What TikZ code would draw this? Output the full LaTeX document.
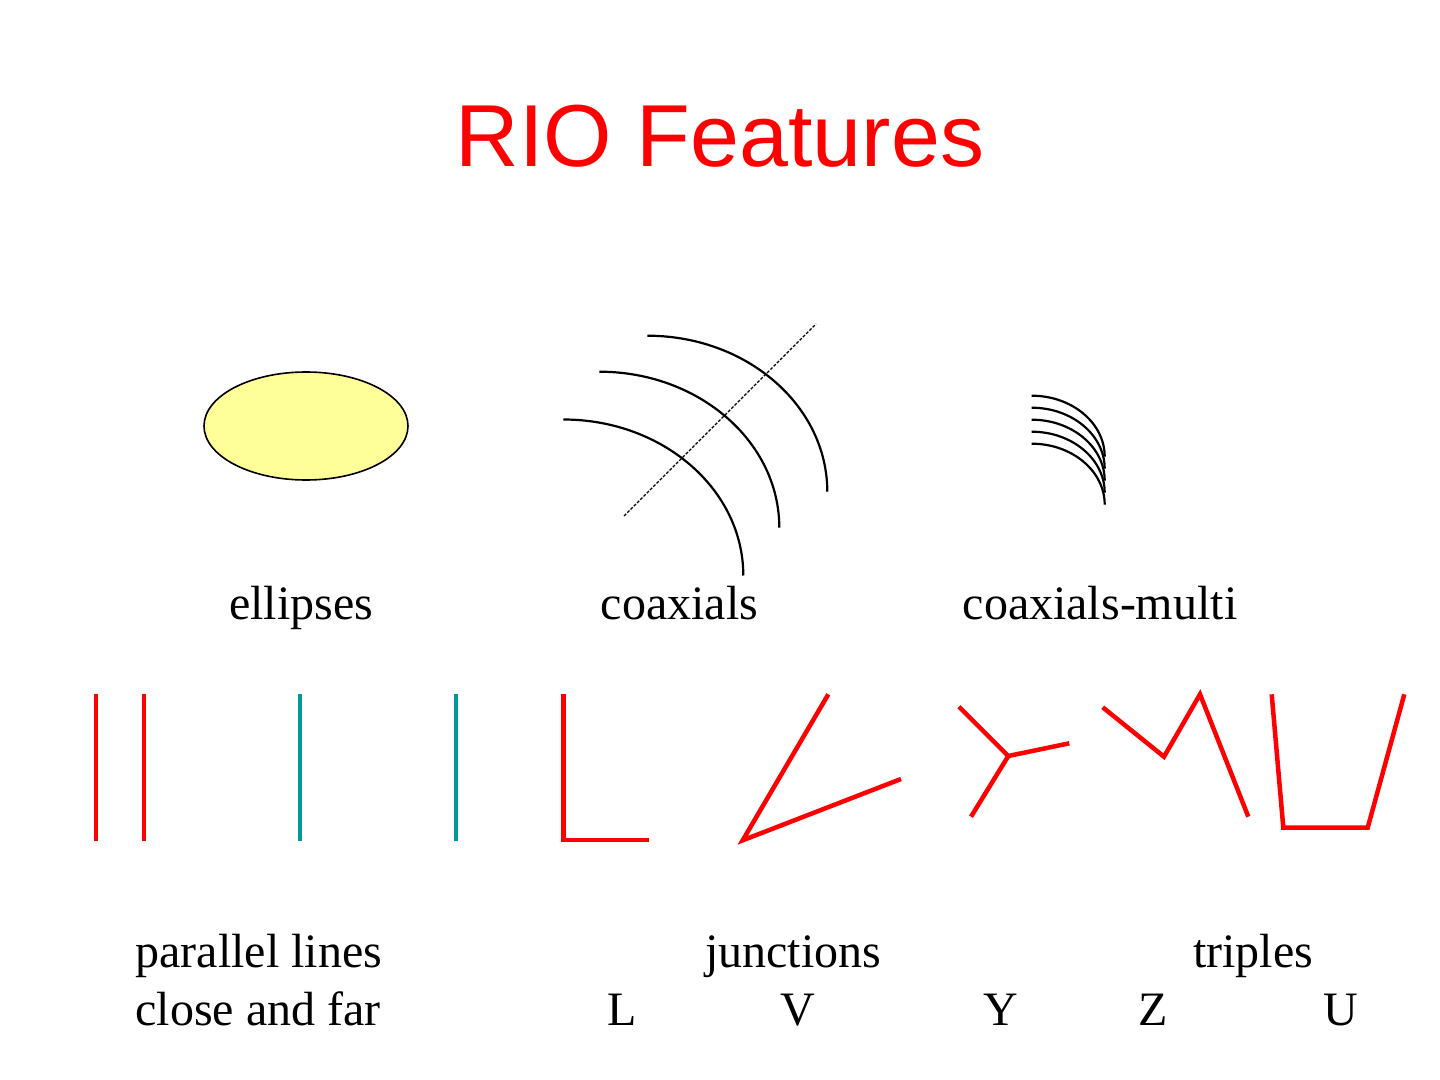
\documentclass[tikz,border=0pt]{standalone}
\usepackage{fontspec}
\setmainfont{Liberation Serif}
\newfontfamily\titlefont{Liberation Sans}
\usepackage{xcolor}
\definecolor{ellfill}{HTML}{FFFF99}
\definecolor{tealline}{HTML}{009999}
\tikzset{
	ttl/.style={anchor=base, inner sep=0pt, text=red, font=\titlefont\fontsize{44}{53}\selectfont},
	lbl/.style={anchor=base, inner sep=0pt, font=\fontsize{24}{29}\selectfont},
	lblw/.style={lbl, anchor=base west},
	ell/.style={draw, line width=0.8pt, fill=ellfill},
	coax/.style={draw, line width=1.1pt},
	axis/.style={draw, line width=0.6pt, dash pattern=on 1.5pt off 0.8pt},
	redseg/.style={draw=red, line width=2.25pt},
	tealseg/.style={draw=tealline, line width=2.25pt},
}
\begin{document}
\begin{tikzpicture}[x=0.5pt, y=-0.5pt]
	\useasboundingbox (0,0) rectangle (1440,1080);
	\node[ttl] (title) at (720,167) {RIO Features};

	\draw[ell] (306,426) ellipse [x radius=51pt, y radius=27pt];
	\draw[coax] (563.3,419.5) arc[start angle=90, end angle=0, x radius=90pt, y radius=78pt];
	\draw[coax] (599.3,371.7) arc[start angle=90, end angle=0, x radius=90pt, y radius=78pt];
	\draw[coax] (647.3,335.7) arc[start angle=90, end angle=0, x radius=90pt, y radius=78pt];
	\draw[axis] (624,516) -- (816,324);
	\foreach \k in {0,...,4}
		\draw[coax] (1031.7,395.7+12*\k) arc[start angle=90, end angle=0, x radius=36.5pt, y radius=30.5pt];

	\node[lbl] (ellipses) at (301,619) {ellipses};
	\node[lbl] (coaxials) at (679.5,619) {coaxials};
	\node[lbl] (multi) at (1100,619) {coaxials-multi};

	\draw[redseg] (96,694) -- (96,841);
	\draw[redseg] (144,694) -- (144,841);
	\draw[tealseg] (300,694) -- (300,841);
	\draw[tealseg] (456,694) -- (456,841);
	\draw[redseg] (563.3,694) -- (563.3,840) -- (649.3,840);
	\draw[redseg] (828.3,694.3) -- (742.7,840.3) -- (901,779);
	\draw[redseg] (959,706.7) -- (1008.3,756) -- (1069.3,743.3);
	\draw[redseg] (1008.3,756) -- (971,816.7);
	\draw[redseg] (1102.7,707.3) -- (1164,756.7) -- (1200,694.3) -- (1248.3,816.7);
	\draw[redseg] (1271.7,694.3) -- (1283.3,827.7) -- (1367.7,827.7) -- (1404.3,694.3);

	\node[lblw] (parallel) at (135,967) {parallel lines};
	\node[lblw] (closefar) at (135,1025) {close and far};
	\node[lbl] (junctions) at (793,967) {junctions};
	\node[lbl] (triples) at (1253,967) {triples};
	\node[lbl] (jl) at (622,1025) {L};
	\node[lbl] (jv) at (798,1025) {V};
	\node[lbl] (jy) at (1001,1025) {Y};
	\node[lbl] (jz) at (1153,1025) {Z};
	\node[lbl] (ju) at (1341,1025) {U};
\end{tikzpicture}
\end{document}
